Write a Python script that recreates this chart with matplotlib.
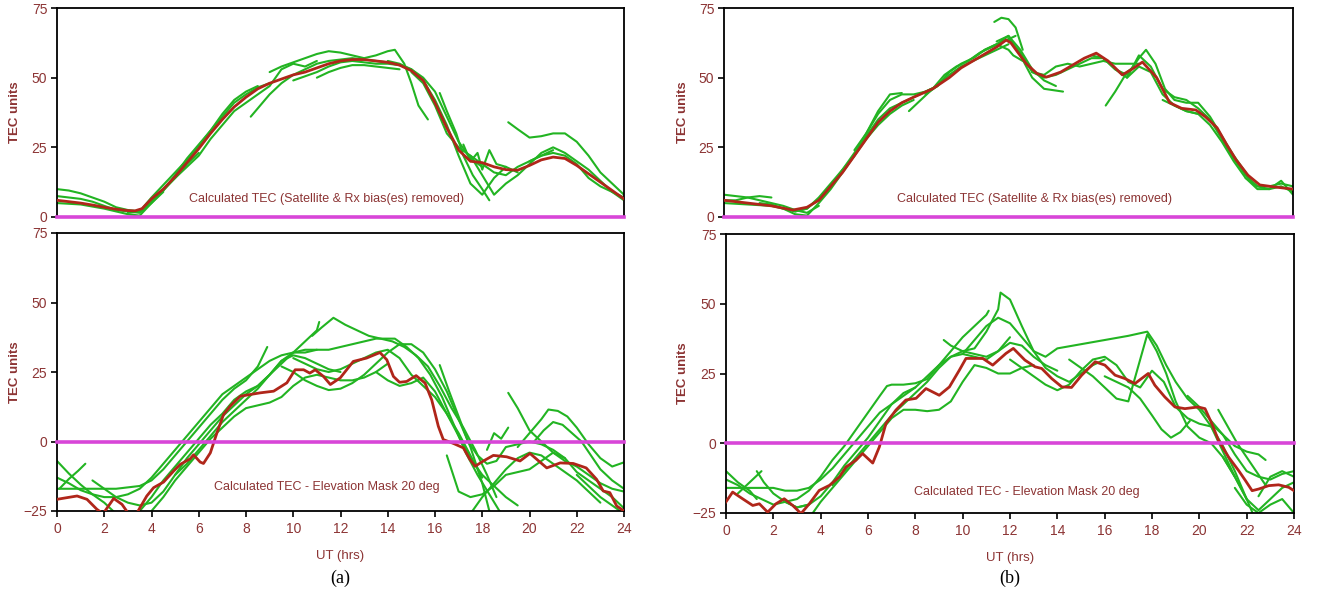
import matplotlib
matplotlib.use("Agg")
import matplotlib.pyplot as plt

plt.rcParams['font.family'] = ['Liberation Sans', 'DejaVu Sans']

# ---------------- data ----------------
# x ticks (UT hours)
hour_ticks = [0, 2, 4, 6, 8, 10, 12, 14, 16, 18, 20, 22, 24]
top_yticks = [0, 25, 50, 75]
bottom_yticks = [-25, 0, 25, 50, 75]

# (a) upper: mean TEC, biases removed
a_top_hours = [0, 0.5, 1, 1.5, 2, 2.5, 3, 3.3, 3.6, 4, 4.5, 5, 5.5, 6, 6.5, 7, 7.5, 8, 8.5, 9,
               9.5, 10, 10.5, 11, 11.5, 12, 12.5, 13, 13.5, 14, 14.5, 15, 15.5, 16, 16.5, 17,
               17.5, 18, 18.5, 19, 19.5, 20, 20.5, 21, 21.5, 22, 22.5, 23, 23.5, 24]
a_top_mean = [6, 5.5, 5, 4.3, 3.5, 2.8, 2.3, 2.2, 3, 6.5, 10, 14.5, 19.5, 24.5, 30, 35, 39.5, 43,
              46, 48, 49.5, 51, 52, 53.5, 55, 56, 56.5, 56.5, 56, 55.5, 54.5, 52.5, 49, 41, 32,
              24, 20, 19.5, 18, 17, 16.8, 18.5, 20.5, 21.5, 21, 18.5, 15.5, 12.5, 9.5, 6.5]

# (a) upper: individual satellite tracks
a_top_tracks = [
    ([0, 0.5, 1, 1.5, 2, 2.5, 3, 3.5, 4, 4.5, 5, 5.5, 6],
     [10, 9.5, 8.5, 7, 5.5, 3.5, 2.5, 2, 5.5, 9.5, 14, 19, 23]),
    ([0, 1, 2, 3, 3.5, 4, 4.5, 5, 5.5, 6, 6.5, 7, 7.5, 8, 8.5, 9],
     [5, 4.5, 3, 1, 0.5, 5, 9.5, 15, 21, 26, 31, 36, 41, 44, 46.5, 48]),
    ([0, 0.5, 1, 1.5, 2, 2.5, 3, 3.5, 4, 4.5],
     [7.5, 7, 6.5, 5.5, 4, 2.5, 2, 1.5, 5, 9]),
    ([3, 3.5, 4, 4.5, 5, 5.5, 6, 6.5, 7, 7.5, 8, 8.5],
     [1.5, 2, 7, 11.5, 16, 20.5, 25.5, 31, 37, 42, 45, 47]),
    ([4, 4.5, 5, 5.5, 6, 6.5, 7, 7.5, 8, 8.5, 9, 9.5, 10, 10.5, 11],
     [6, 10, 14, 18, 22, 28, 33, 38, 41, 44, 47, 53, 55, 54, 56]),
    ([8.2, 8.6, 9, 9.5, 10, 10.5, 11, 11.5, 12, 12.5, 13, 13.5, 14],
     [36, 40, 44, 48, 51, 53, 55, 56, 56.5, 57, 56.5, 56, 55.5]),
    ([9, 9.5, 10, 10.5, 11, 11.5, 12, 12.5, 13, 13.5, 14, 14.3, 14.7, 15, 15.3, 15.7],
     [52, 54, 55.5, 57, 58.5, 59.5, 59, 58, 57, 58, 59.5, 60, 55, 48, 40, 35]),
    ([10, 10.5, 11, 11.5, 12, 12.5, 13, 13.5, 14, 14.5, 15, 15.5, 16, 16.5, 17, 17.5, 18],
     [49, 50.5, 52, 54, 55.5, 56, 55.5, 55, 55, 54.5, 53, 50, 45, 36, 27, 21, 18]),
    ([11, 11.5, 12, 12.5, 13, 13.5, 14, 14.5],
     [50, 52, 53.5, 54.5, 54.5, 54, 53.5, 53]),
    ([14, 14.5, 15, 15.5, 16, 16.5, 17, 17.5, 18, 18.5, 19, 19.5],
     [56, 55, 53, 49, 42, 33, 22, 12, 8, 14, 18, 16]),
    ([16.2, 16.5, 16.9, 17.2, 17.6, 18, 18.3],
     [44.5, 38, 30, 22, 15, 10, 6]),
    ([15, 15.5, 16, 16.5, 17, 17.5, 18, 18.5, 19, 19.5, 20, 20.5, 21],
     [52, 48, 40, 30, 25, 22, 19, 16, 15, 18, 20, 22, 24]),
    ([19.1, 19.5, 20, 20.5, 21, 21.5, 22, 22.5, 23, 23.5, 24],
     [34, 31.5, 28.5, 29, 30, 30, 27, 22, 16, 12, 8]),
    ([17.5, 18, 18.5, 19, 19.5, 20, 20.5, 21, 21.5, 22, 22.5, 23, 23.5, 24],
     [22, 15, 8, 12, 15, 19, 23, 25, 23, 20, 17, 13, 9, 6]),
    ([20, 20.5, 21, 21.5, 22, 22.5, 23, 23.5, 24],
     [20, 22, 23, 22, 19, 14, 11, 9, 7]),
    ([17.2, 17.5, 17.8, 18, 18.3, 18.6, 19],
     [26, 20, 23, 17, 24, 19, 18]),
]

# (a) lower: mean TEC, elevation mask 20 deg
a_bot_hours = [0, 0.42, 0.85, 1.27, 1.69, 1.95, 2.4, 2.75, 3.03, 3.39, 3.8, 4.09, 4.51, 4.94,
               5.22, 5.64, 5.78, 6.06, 6.2, 6.49, 6.77, 7.05, 7.33, 7.76, 8.18, 8.6, 9.17, 9.73,
               10.08, 10.44, 10.7, 10.93, 11.28, 11.57, 11.99, 12.54, 13.1, 13.67, 13.96,
               14.24, 14.5, 14.8, 15.2, 15.58, 15.86, 16.14, 16.35, 16.78, 17.2, 17.48, 17.7,
               18.05, 18.47, 19.03, 19.6, 20.02, 20.73, 21.3, 21.85, 22.4, 22.84, 23.12, 23.4,
               23.69, 24]
a_bot_mean = [-20.8, -20.2, -19.6, -20.8, -24.4, -26, -20.5, -22.6, -26, -25.6, -19.6, -16.6,
              -14.6, -10.6, -8.2, -6.2, -4.8, -7.4, -7.9, -4.1, 3.1, 9.7, 12.7, 16.3, 16.9,
              17.5, 18.1, 21.1, 25.8, 25.8, 24.6, 25.8, 23.4, 20.5, 22.9, 28.8, 30, 32, 29.4,
              23.4, 21.3, 21.6, 23.7, 21, 15, 5.5, 0.7, -0.7, -2.3, -6.5, -8.9, -7, -5, -5.5,
              -7, -4.3, -9.5, -7.7, -7.9, -9.5, -13.6, -17.8, -18.4, -23.2, -25]

a_bot_tracks = [
    ([0, 0.5, 1, 1.5, 2, 2.5, 3, 3.5, 4, 4.5, 5, 5.5, 6, 6.5, 7, 7.5, 8, 8.5, 8.9],
     [-17, -17, -17, -17, -17, -17, -16.5, -16, -14, -10, -5, 0, 5, 10, 15, 19, 22, 27, 34]),
    ([0, 0.5, 1, 1.5, 2, 2.5],
     [-7, -11.5, -15.5, -19, -22, -26]),
    ([0.1, 0.5, 0.9, 1.2],
     [-17, -13.5, -10.5, -8]),
    ([0, 0.5, 1, 1.5, 2, 2.5, 3, 3.5, 4, 4.5, 5, 5.5, 6, 6.5, 7, 7.5, 8, 8.5, 9, 9.5, 10,
      10.5, 11],
     [-13, -15, -17.5, -19, -20, -20, -19, -17, -13, -8, -3, 2, 7, 12, 17, 20, 23, 26, 29,
      31, 32, 32, 33]),
    ([1.5, 2, 2.5, 3, 3.5, 4, 4.5, 5, 5.5, 6, 6.5, 7, 7.5, 8, 8.5, 9, 9.5, 10, 10.5, 11,
      11.5, 12],
     [-14, -17, -20, -22, -23, -22, -18, -12, -6, -1, 4, 9, 13, 17, 20, 24, 29, 31, 30, 28,
      26, 25]),
    ([3.9, 4.5, 5, 5.5, 6, 6.5, 7, 7.5, 8, 8.5, 9, 9.5, 10, 10.5, 11, 11.5, 12, 12.5, 13,
      13.5, 14],
     [-26, -20, -14, -9, -4, 1, 5, 9, 12, 13, 14, 16, 20, 23, 24, 23, 22, 22, 23, 25, 28]),
    ([3.5, 4, 4.5, 5, 5.5, 6, 6.5, 7, 7.5, 8, 8.5, 9, 9.5, 10, 10.5, 11, 11.1],
     [-25, -20, -14, -9, -4, 1, 6, 10, 15, 18, 20, 24, 28, 32, 36, 40, 43]),
    ([5, 5.5, 6, 6.5, 7, 7.5, 8, 8.5, 9, 9.5, 10, 10.5, 11, 11.5, 12, 12.5, 13, 13.5, 14,
      14.3, 14.8, 15.3, 15.8, 16.3, 16.8, 17.3, 17.8, 18.3, 18.8],
     [-12, -8, -3, 2, 7, 11, 15, 19, 24, 29, 32, 33, 33, 33, 34, 35, 36, 37, 37, 37, 34,
      30, 24, 16, 6, -4, -12, -19, -26]),
    ([10.8, 11.2, 11.7, 12.2, 12.7, 13.2, 13.7, 14.2, 14.7, 15.2, 15.7, 16.2, 16.7, 17.2,
      17.7, 18.2, 18.6],
     [38, 41, 44.5, 42, 40, 38, 37, 36, 34, 31, 27, 20, 12, 5, -3, -12, -20]),
    ([9.5, 10, 10.5, 11, 11.5, 12, 12.5, 13, 13.5, 14, 14.5, 15, 15.5, 16, 16.5, 17, 17.5,
      18, 18.3],
     [27, 25, 22, 20, 18.5, 19, 21, 24, 28, 32, 35, 35, 32, 26, 18, 8, -2, -15, -25]),
    ([10, 10.5, 11, 11.5, 12, 12.5, 13, 13.5, 14, 14.5, 15, 15.5, 16, 16.5, 17, 17.5, 18],
     [30, 28, 26, 25, 26, 28, 30, 32, 33, 30, 24, 20, 16, 10, 3, -5, -13]),
    ([13.5, 14, 14.5, 15, 15.5, 16, 16.5, 17, 17.5, 18, 18.5, 19, 19.5],
     [25, 22, 20, 21, 23, 18, 10, 2, -6, -12, -16, -20, -23]),
    ([16.2, 16.6, 17, 17.4, 17.8, 18.2, 18.6, 19, 19.5, 20, 20.5, 21, 21.5],
     [27.5, 18, 9, 0, -5, -8, -7, -2, -1, 0, -1, -3, -6]),
    ([19.1, 19.5, 20, 20.5, 21, 21.5, 22, 22.5, 23, 23.5, 24],
     [17.5, 12, 4, 0, -4, -7, -9, -12, -15, -17, -18]),
    ([19.5, 20, 20.5, 20.8, 21.2, 21.6, 22, 22.5, 23, 23.5, 24],
     [-2, 3, 8, 11.5, 11, 9, 5, -1, -6, -9, -7.5]),
    ([16.5, 17, 17.5, 18, 18.5, 19, 19.5, 20, 20.5, 21, 21.5, 22, 22.5, 23, 23.5, 24],
     [-5, -18, -20, -19, -16, -12, -11, -10, -7, -4, -6, -11, -14, -17, -20, -24]),
    ([17.5, 18, 18.5, 19, 19.5, 20, 20.5, 21, 21.5, 22, 22.5, 23],
     [-26, -20, -15, -10, -6, -4, -5, -8, -11, -14, -18, -22]),
    ([20.2, 20.6, 21, 21.4, 21.8, 22.2, 22.6, 23, 23.5, 24],
     [0, 4, 7, 6, 3, 0, -5, -10, -14, -17]),
    ([22, 22.5, 23, 23.5, 24],
     [-12, -16, -20, -23, -26]),
    ([18.2, 18.5, 18.8, 19.1],
     [-3, 3, 1, 5]),
]

# (b) upper: mean TEC, biases removed
b_top_hours = [0, 1, 2, 2.9, 3.5, 4, 5, 6, 6.5, 7, 7.5, 8, 8.8, 9.5, 10, 10.5, 11, 11.5, 11.9,
               12.1, 12.4, 12.75, 13.2, 13.6, 14.2, 14.7, 15.2, 15.7, 16.2, 16.8, 17.2, 17.65,
               18.25, 18.8, 19.3, 19.9, 20.3, 20.8, 21.2, 21.6, 22.1, 22.6, 23.2, 24]
b_top_mean = [6, 5, 4, 2.5, 3.5, 6, 16, 28, 34, 38, 41, 43, 46, 50, 53.5, 56, 58.5, 61, 63.5,
              62.5, 59, 55, 51.5, 50.2, 52, 54.5, 57, 58.8, 56, 51, 53, 55.6, 50, 41, 39,
              38.4, 36, 32, 26, 20.5, 15, 11.5, 10.8, 10]

b_top_tracks = [
    ([0, 0.5, 1, 1.5, 2, 2.5, 3, 3.5, 4],
     [8, 7.5, 7, 6, 5, 4, 2.5, 1.5, 4]),
    ([0, 0.5, 1, 1.5, 2],
     [6, 6, 7, 7.5, 7]),
    ([0, 1, 2, 2.5, 3, 3.5, 4, 4.5, 5, 5.5, 6, 6.5, 7, 7.5, 8, 8.5, 9],
     [5, 4.5, 4, 3, 1, 0.5, 5, 10, 16, 22, 29, 35, 39, 41, 43, 45, 47]),
    ([1.5, 2, 2.5, 3, 3.5, 4, 4.5, 5, 5.5, 6, 6.5, 7, 7.5, 8, 8.5, 9, 9.5, 10, 10.5, 11,
      11.5, 12],
     [5, 4.5, 3, 2, 3, 6.5, 11, 17, 23, 30, 37, 42, 44, 44, 45, 47, 51, 54, 56, 58, 60, 62]),
    ([3, 3.5, 4, 4.5, 5, 5.5, 6, 6.5, 7, 7.5, 8],
     [2, 3, 7, 12, 17, 22, 28, 33, 37, 40, 42]),
    ([5.5, 6, 6.5, 7, 7.5],
     [24, 30, 38, 44, 44.5]),
    ([7.8, 8.3, 8.8, 9.3, 9.8, 10.3, 10.8, 11.3, 11.8, 12.3],
     [38, 42, 46, 51, 54, 56, 59, 61, 63, 65]),
    ([8.5, 9, 9.5, 10, 10.5, 11, 11.5, 12, 12.5, 13, 13.5, 14],
     [44, 47, 52, 55, 57, 60, 62, 65, 60, 53, 49, 47]),
    ([10.5, 11, 11.5, 12, 12.2, 12.4, 12.6],
     [57, 60, 62, 60, 58, 57, 56]),
    ([11.4, 11.7, 12, 12.3, 12.6],
     [70, 71.5, 71, 68, 60]),
    ([11.5, 12, 12.5, 13, 13.5, 14.3],
     [63, 65, 58, 50, 46, 45]),
    ([12, 12.5, 13, 13.5, 14, 14.5, 15, 15.5, 16, 16.5, 17, 17.5, 18, 18.5, 19, 19.5, 20],
     [64, 59, 52, 50, 51, 53, 55, 57, 57, 53, 50, 54, 52, 44, 40, 38, 37]),
    ([13, 13.5, 14, 14.5, 15, 15.5, 16, 16.5, 17, 17.5],
     [52, 51, 54, 55, 54, 55, 56, 55, 55, 55]),
    ([16.1, 16.5, 17, 17.3],
     [40, 45, 52, 54]),
    ([15.5, 16, 16.5, 17, 17.5, 17.8, 18.2, 18.6, 19, 19.5, 20, 20.5, 21, 21.5, 22],
     [58, 57, 53, 51, 57, 60, 55, 46, 42, 41, 41, 36, 29, 22, 16]),
    ([17, 17.5, 18, 18.5, 19, 19.5, 20, 20.5, 21, 21.5, 22, 22.5, 23, 23.5, 24],
     [50, 58, 54, 46, 43, 42, 39, 35, 28, 21, 15, 11, 11, 12, 11]),
    ([18.5, 19, 19.5, 20, 20.5, 21, 21.5, 22, 22.5, 23, 23.5, 24],
     [42, 40, 38, 37, 33, 27, 20, 14, 10, 10, 11, 9]),
    ([22, 22.5, 23, 23.5, 24],
     [14, 11, 10, 13, 8]),
]

# (b) lower: mean TEC, elevation mask 20 deg
b_bot_hours = [0, 0.28, 0.7, 1.13, 1.41, 1.76, 2.11, 2.46, 2.82, 3.17, 3.52, 3.94, 4.37, 4.79,
               5.07, 5.49, 5.77, 6.2, 6.48, 6.76, 7.18, 7.6, 8.03, 8.45, 9.01, 9.44, 9.86,
               10.14, 10.85, 11.27, 11.83, 12.14, 12.63, 13.06, 13.34, 13.76, 14.19, 14.6,
               15.03, 15.6, 16.01, 16.44, 16.85, 17.28, 17.84, 18.12, 18.54, 18.97, 19.39,
               19.95, 20.24, 20.53, 20.81, 21.24, 21.66, 21.95, 22.23, 22.51, 22.93, 23.35,
               23.78, 24]
b_bot_mean = [-21, -17.5, -19.9, -22.3, -21.7, -24.7, -21.7, -19.9, -22.3, -25.2, -21.7,
              -16.9, -15.1, -12.1, -8.5, -6.1, -3.7, -7.1, -1.3, 7.1, 11.9, 15.5, 16.1, 19.6,
              17.2, 20.2, 26.2, 30.4, 30.4, 28, 32.2, 34, 29.8, 27.4, 26.8, 23.2, 20.2, 20,
              24.4, 29.2, 28, 24.4, 23.2, 21.4, 25, 20.8, 16.6, 13, 12.4, 13, 12.4, 7, 1, -5,
              -9.8, -13.4, -17, -16.4, -15.2, -14.9, -15.8, -17]

b_bot_tracks = [
    ([0, 0.5, 1, 1.5, 2, 2.5, 3, 3.5, 4, 4.5, 5, 5.5, 6, 6.5, 7, 7.5, 8],
     [-16, -16, -16, -16, -16, -17, -17, -16, -13, -9, -4, 1, 6, 11, 14, 17, 20]),
    ([0, 0.5, 1, 1.3],
     [-10, -14, -17, -20]),
    ([0.5, 1, 1.5],
     [-18, -14, -10]),
    ([0, 0.5, 1, 1.5, 2, 2.5, 3, 3.5, 4, 4.5, 5, 5.5, 6, 6.5, 6.8, 7, 7.5, 8, 8.5, 9, 9.5,
      10, 10.5, 11, 11.1],
     [-13, -15, -18, -20, -22, -21, -20, -17, -12, -6, -1, 5, 11, 17, 20.5, 21, 21, 21.5,
      23, 28, 33, 38, 42, 46, 47.5]),
    ([1.3, 1.6, 2, 2.5, 3, 3.5],
     [-10, -14, -18, -21, -23, -22]),
    ([2.5, 3, 3.5, 4, 4.5, 5, 5.5, 6, 6.5, 7, 7.5, 8, 8.5, 9, 9.5, 10, 10.5, 11, 11.5, 12],
     [-21, -23, -22, -19, -14, -8, -3, 2, 8, 14, 18, 20, 24, 28, 31, 32, 31, 30, 33, 38]),
    ([3.5, 4, 4.5, 5, 5.5, 6, 6.5, 7, 7.5, 8, 8.5, 9, 9.5, 10, 10.5, 11, 11.5, 12, 12.5, 13],
     [-27, -21, -16, -11, -6, -1, 4, 9, 12, 12, 11.5, 12, 15, 22, 28, 27, 25, 25, 27, 28]),
    ([4.5, 5, 5.5, 6, 6.5, 7, 7.5, 8, 8.5, 9, 9.5, 10, 10.5, 11, 11.5, 12, 12.5, 13, 13.5,
      14],
     [-15, -10, -5, 0, 5, 10, 14, 18, 22, 27, 31, 33, 32, 31, 33, 36, 35, 31, 28, 26]),
    ([9.2, 9.5, 10, 10.5, 11, 11.5, 11.6, 12, 12.5, 13, 13.5, 14, 14.5, 15, 15.5, 16],
     [37, 35, 33, 34, 40, 48, 54, 51.5, 42, 33, 27, 24, 22, 25, 28, 30]),
    ([10, 10.5, 11, 11.5, 12, 12.5, 13, 13.5, 14, 15, 16, 17, 17.8, 18.2, 18.6, 19, 19.5,
      20, 20.5, 21, 21.5, 22],
     [32, 37, 42, 45, 43, 38, 33, 31, 34, 35.5, 37, 38.5, 40, 35, 28, 22, 16, 12, 6, -1,
      -10, -20]),
    ([12, 12.5, 13, 13.5, 14, 14.5, 15, 15.5, 16, 16.5, 17, 17.5, 18, 18.5, 19, 19.5, 20,
      20.5, 21, 21.5],
     [30, 27, 24, 21, 19, 21, 26, 30, 31, 28, 22, 20, 26, 22, 13, 9, 7, 6, -3, -12]),
    ([14.5, 15, 15.5, 16, 16.5, 17, 17.5, 17.8, 18.2, 18.6, 19, 19.5, 20, 20.5, 21, 21.5,
      22, 22.3],
     [30, 27, 24, 20, 16, 15, 30, 39, 33, 25, 15, 6, 2, 0, -5, -12, -20, -26]),
    ([16, 16.5, 17, 17.5, 18, 18.4, 18.8, 19.2, 19.6],
     [24, 22, 20, 16, 10, 5, 2, 4, 8]),
    ([19.5, 20, 20.5, 21, 21.5, 22, 22.5, 23, 23.5, 24],
     [17, 13, 8, 3, -4, -10, -12, -13, -11, -10]),
    ([20.8, 21.2, 21.6, 22, 22.4, 22.8],
     [12, 6, 0, -5, -10, -15]),
    ([21, 21.5, 22, 22.5, 23, 23.5, 24],
     [-5, -12, -20, -24, -20, -16, -14]),
    ([22.5, 23, 23.5, 24],
     [-19, -12, -10, -12]),
    ([21.5, 22, 22.5, 23, 23.5, 24],
     [-16, -22, -25, -22, -20, -25]),
    ([20.5, 21, 21.5, 22, 22.5, 22.8],
     [7, 3, -1, -3, -4, -6]),
]

top_caption = "Calculated TEC (Satellite & Rx bias(es) removed)"
bottom_caption = "Calculated TEC - Elevation Mask 20 deg"

# ---------------- styling ----------------
GREEN = "#22b422"
MEAN_RED = "#b0261a"
MAGENTA = "#d846d8"
LABEL = "#8c3434"

fig = plt.figure(figsize=(13.26, 5.99), dpi=100)
W, H = 1326.0, 599.0


def make_axes(x0, x1, ytop, ybot):
    return fig.add_axes([x0 / W, 1 - ybot / H, (x1 - x0) / W, (ybot - ytop) / H])


def style_axes(ax, yticks, ylim, show_x, label_x):
    ax.set_xlim(0, 24)
    ax.set_ylim(*ylim)
    ax.set_yticks(yticks)
    for s in ax.spines.values():
        s.set_color("black")
        s.set_linewidth(1.3)
    ax.tick_params(axis="y", direction="out", length=4, width=1.2, colors="black",
                   labelcolor=LABEL, labelsize=10, pad=3)
    if show_x:
        ax.set_xticks(hour_ticks)
        ax.tick_params(axis="x", direction="out", length=4, width=1.2, colors="black",
                       labelcolor=LABEL, labelsize=10, pad=4)
        ax.set_xlabel("UT (hrs)", color=LABEL, fontsize=9.5, labelpad=10)
    else:
        ax.set_xticks([])
    ax.set_ylabel("TEC units", color=LABEL, fontsize=9.5, fontweight="bold")
    ax.yaxis.set_label_coords(label_x, 0.5)


def draw_panel(ax, tracks, hours, mean, caption, cap_x, cap_y):
    for hx, hy in tracks:
        ax.plot(hx, hy, color=GREEN, lw=1.5, solid_capstyle="round",
                solid_joinstyle="round", zorder=2)
    ax.plot(hours, mean, color=MEAN_RED, lw=2.0, solid_joinstyle="round", zorder=3)
    ax.axhline(0, color=MAGENTA, lw=2.6, zorder=4, clip_on=False)
    ax.text(cap_x, cap_y, caption, color=LABEL, fontsize=9, ha="center", va="center", zorder=5)


ax_a_top = make_axes(57, 624, 8, 217)
ax_a_bot = make_axes(57, 624, 233, 511)
ax_b_top = make_axes(724, 1293, 8, 217)
ax_b_bot = make_axes(726, 1294, 234, 513)

draw_panel(ax_a_top, a_top_tracks, a_top_hours, a_top_mean, top_caption, 11.4, 6.3)
style_axes(ax_a_top, top_yticks, (0, 75), False, -0.063)

draw_panel(ax_a_bot, a_bot_tracks, a_bot_hours, a_bot_mean, bottom_caption, 11.4, -16.5)
style_axes(ax_a_bot, bottom_yticks, (-25, 75), True, -0.063)

draw_panel(ax_b_top, b_top_tracks, b_top_hours, b_top_mean, top_caption, 13.1, 6.3)
style_axes(ax_b_top, top_yticks, (0, 75), False, -0.061)

draw_panel(ax_b_bot, b_bot_tracks, b_bot_hours, b_bot_mean, bottom_caption, 12.7, -17.6)
style_axes(ax_b_bot, bottom_yticks, (-25, 75), True, -0.065)

fig.text(340 / W, 1 - 578 / H, "(a)", ha="center", va="center", fontsize=13,
         family=["Liberation Serif", "DejaVu Serif"])
fig.text(1010 / W, 1 - 578 / H, "(b)", ha="center", va="center", fontsize=13,
         family=["Liberation Serif", "DejaVu Serif"])

fig.savefig("out.png", dpi=100, facecolor="white")
